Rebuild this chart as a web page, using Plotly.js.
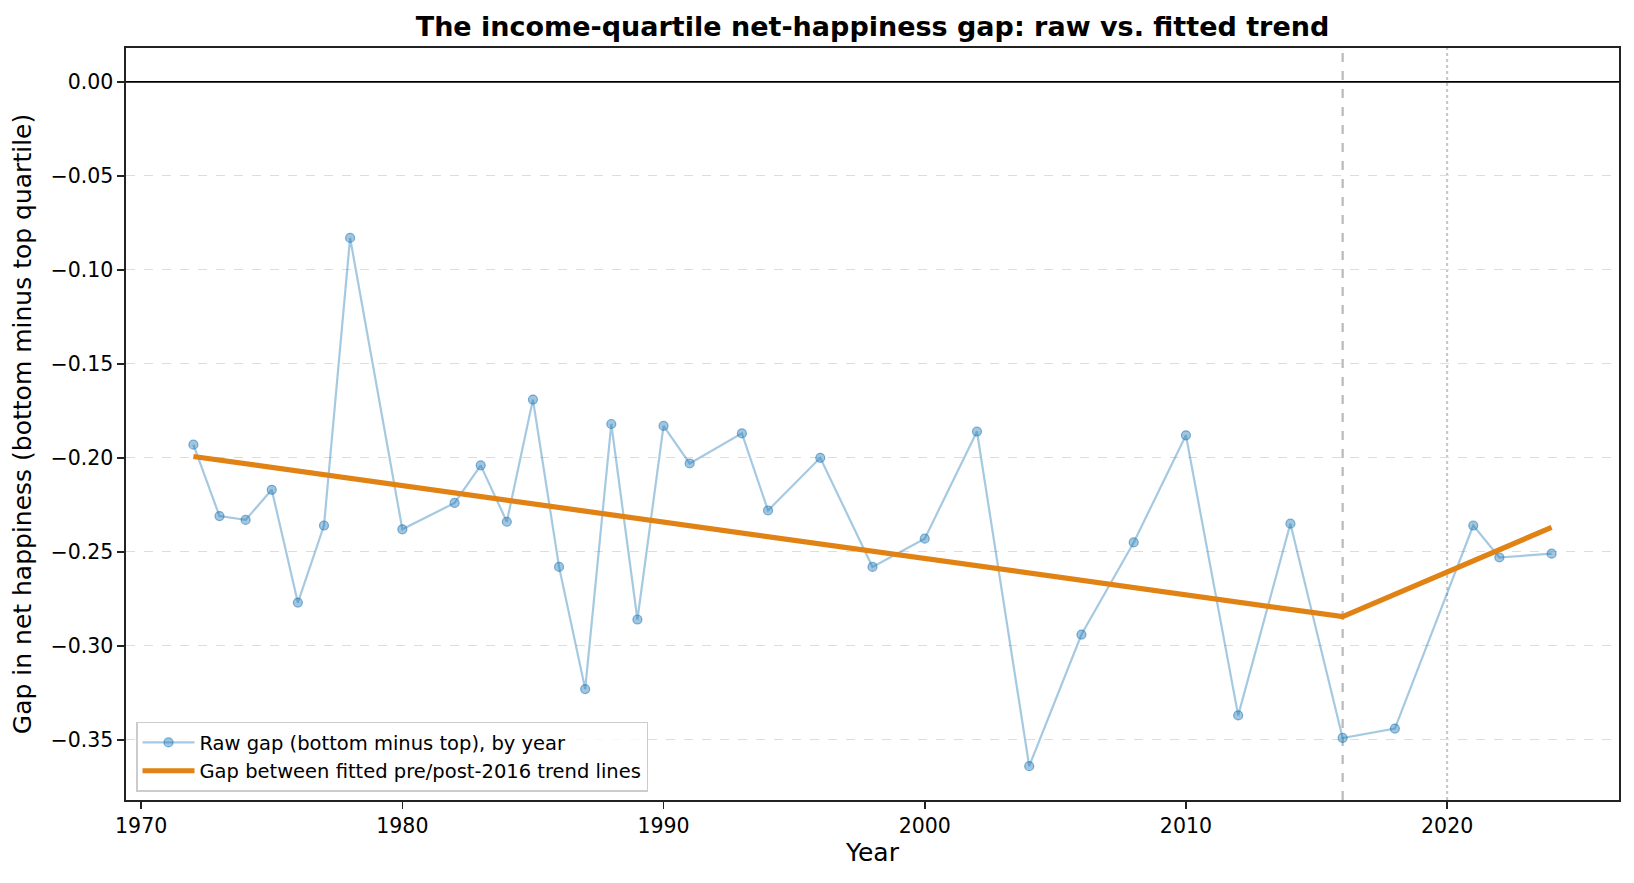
<!DOCTYPE html>
<html>
<head>
<meta charset="utf-8">
<script src="https://cdn.plot.ly/plotly-3.0.1.min.js"></script>
<style>
  body { margin: 0; background: #fff; }
  #chart { width: 1634px; height: 883px; }
</style>
</head>
<body>
<div id="chart"></div>
<script>
// survey years and the raw bottom-minus-top quartile gap
var years = [1972, 1973, 1974, 1975, 1976, 1977, 1978, 1980, 1982, 1983, 1984, 1985, 1986, 1987,
             1988, 1989, 1990, 1991, 1993, 1994, 1996, 1998, 2000, 2002, 2004, 2006, 2008, 2010,
             2012, 2014, 2016, 2018, 2021, 2022, 2024];
var rawGap = [-0.193, -0.231, -0.233, -0.217, -0.277, -0.236, -0.083, -0.238, -0.224, -0.204, -0.234, -0.169, -0.258, -0.323,
              -0.182, -0.286, -0.183, -0.203, -0.187, -0.228, -0.200, -0.258, -0.243, -0.186, -0.364, -0.294, -0.245, -0.188,
              -0.337, -0.235, -0.349, -0.344, -0.236, -0.253, -0.251];

// fitted pre/post-2016 trend gap (kinks at the break year)
var trendYears = [1972, 2016, 2024];
var trendGap = [-0.1993, -0.2845, -0.2370];

var breakYear = 2016;
var refYear = 2020;

var xTicks = [1970, 1980, 1990, 2000, 2010, 2020];
var yTicks = [0, -0.05, -0.10, -0.15, -0.20, -0.25, -0.30, -0.35];

function doFirst() {
  var rawTrace = {
    x: years,
    y: rawGap,
    name: 'Raw gap (bottom minus top), by year',
    type: 'scatter',
    mode: 'lines+markers',
    line: { color: 'rgba(31,119,180,0.4)', width: 2.2 },
    marker: { size: 9, color: 'rgba(31,119,180,0.42)', line: { color: 'rgba(31,119,180,0.55)', width: 1.2 } }
  };

  var trendTrace = {
    x: trendYears,
    y: trendGap,
    name: 'Gap between fitted pre/post-2016 trend lines',
    type: 'scatter',
    mode: 'lines',
    line: { color: '#e08214', width: 5.2 }
  };

  var layout = {
    width: 1634,
    height: 883,
    margin: { l: 126, r: 15, t: 48, b: 83 },
    paper_bgcolor: '#ffffff',
    plot_bgcolor: '#ffffff',
    font: { family: 'DejaVu Sans', color: '#000000', size: 20 },
    title: {
      text: '<b>The income-quartile net-happiness gap: raw vs. fitted trend</b>',
      font: { size: 27, family: 'DejaVu Sans' },
      x: 0.5, xref: 'paper',
      y: 1 - 27 / 883, yref: 'container', yanchor: 'middle'
    },
    xaxis: {
      range: [1969.42, 2026.58],
      tickvals: xTicks,
      ticktext: xTicks.map(String),
      ticks: 'outside', ticklen: 7, tickwidth: 1.6, tickcolor: '#222222',
      showline: true, mirror: true, linecolor: '#222222', linewidth: 1.6,
      showgrid: false, zeroline: false,
      tickfont: { size: 20.5 },
      title: { text: 'Year', font: { size: 25 }, standoff: 6 }
    },
    yaxis: {
      range: [-0.382, 0.018],
      tickvals: yTicks,
      tickformat: '.2f',
      ticks: 'outside', ticklen: 7, tickwidth: 1.6, tickcolor: '#222222',
      showline: true, mirror: true, linecolor: '#222222', linewidth: 1.6,
      showgrid: true, gridcolor: '#dddddd', gridwidth: 1.3, griddash: 'dash',
      zeroline: false,
      tickfont: { size: 20.5 },
      title: { text: 'Gap in net happiness (bottom minus top quartile)', font: { size: 25 }, standoff: 12 }
    },
    legend: {
      x: 0.0067, y: 0.011, xanchor: 'left', yanchor: 'bottom',
      bgcolor: 'rgba(255,255,255,0.8)', bordercolor: '#cccccc', borderwidth: 1.5,
      font: { size: 19.5 },
      itemwidth: 52,
      tracegroupgap: 0
    },
    shapes: [
      { type: 'line', xref: 'paper', x0: 0, x1: 1, yref: 'y', y0: 0, y1: 0,
        line: { color: '#000000', width: 1.6 }, layer: 'above' },
      { type: 'line', xref: 'x', x0: breakYear, x1: breakYear, yref: 'paper', y0: 0, y1: 1,
        line: { color: 'rgba(128,128,128,0.55)', width: 2.2, dash: 'dash' }, layer: 'below' },
      { type: 'line', xref: 'x', x0: refYear, x1: refYear, yref: 'paper', y0: 0, y1: 1,
        line: { color: 'rgba(128,128,128,0.45)', width: 2, dash: 'dot' }, layer: 'below' }
    ],
    showlegend: true
  };

  Plotly.newPlot('chart', [rawTrace, trendTrace], layout, { displayModeBar: false, staticPlot: true });
}

window.addEventListener("load", doFirst, false);
</script>
</body>
</html>
